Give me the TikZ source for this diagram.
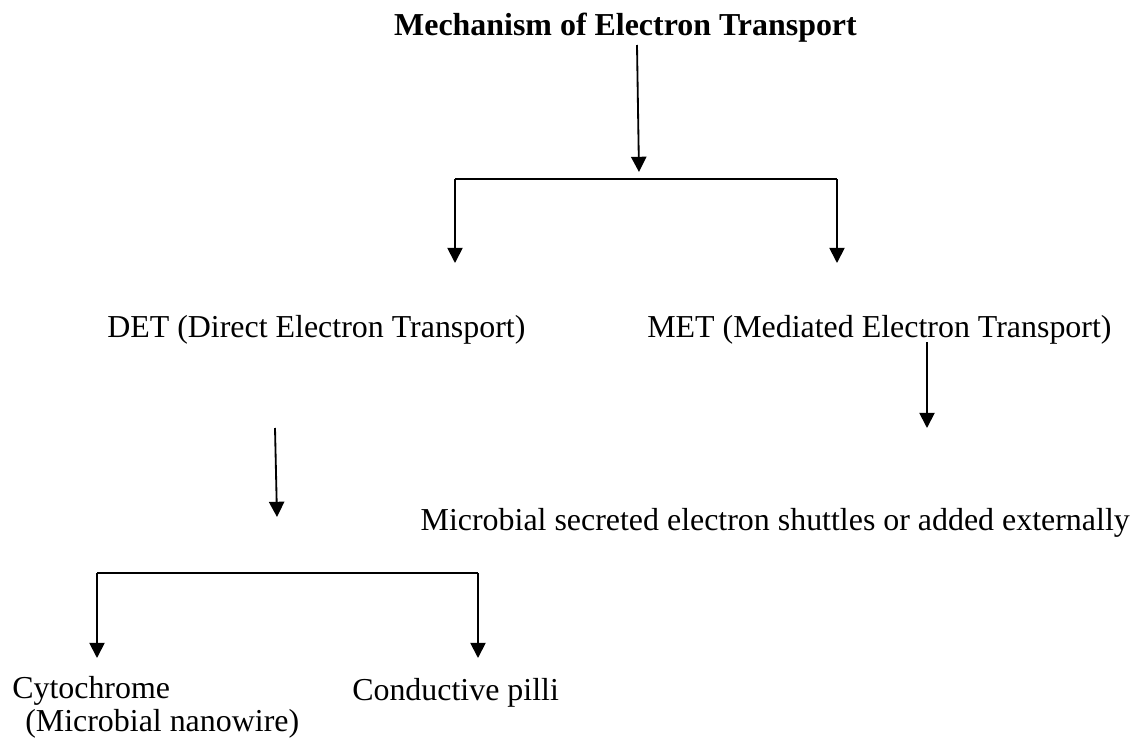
\documentclass[tikz,border=0pt]{standalone}
\usepackage{fontspec}
\setmainfont{Liberation Serif}
\usetikzlibrary{arrows.meta}
\def\drawline{\draw[line width=1.3pt]}
\def\drawarrow{\draw[line width=1.3pt,-{Triangle[length=3.8mm,width=3.8mm]}]}
\def\textnode{\node[inner sep=0pt,font=\fontsize{22.7}{27}\selectfont]}

\begin{document}
\begin{tikzpicture}[x=0.025cm,y=-0.025cm]
\useasboundingbox (0,0) rectangle (1140,743);
\textnode[anchor=base,font=\fontsize{22.7}{27}\selectfont\bfseries] (title) at (625.5,35) {Mechanism of Electron Transport};
\textnode[anchor=base west] (det) at (107,337) {DET (Direct Electron Transport)};
\textnode[anchor=base west] (met) at (647,337) {MET (Mediated Electron Transport)};
\textnode[anchor=base east] (shuttle) at (1130,530) {Microbial secreted electron shuttles or added externally};
\textnode[anchor=base west] (cyto) at (12,698) {Cytochrome};
\textnode[anchor=base west] (nanowire) at (25,731) {(Microbial nanowire)};
\textnode[anchor=base west] (pilli) at (352,700) {Conductive pilli};
% top split
\coordinate (titleout) at (637,45);
\coordinate (split) at (639,172);
\coordinate (splitl) at (455,179);
\coordinate (splitr) at (837,179);
\coordinate (detin) at (455,263);
\coordinate (metin) at (837,263);
\drawarrow (titleout) -- (split);
\drawline (splitl) -- (splitr);
\drawarrow (splitl) -- (detin);
\drawarrow (splitr) -- (metin);
% MET branch
\coordinate (metout) at (927,342);
\coordinate (shuttlein) at (927,428);
\drawarrow (metout) -- (shuttlein);
% DET branch
\coordinate (detout) at (275,428);
\coordinate (detsplit) at (277,517);
\coordinate (detl) at (97,573);
\coordinate (detr) at (478,573);
\coordinate (cytoin) at (97,658);
\coordinate (pilliin) at (478,658);
\drawarrow (detout) -- (detsplit);
\drawline (detl) -- (detr);
\drawarrow (detl) -- (cytoin);
\drawarrow (detr) -- (pilliin);
\end{tikzpicture}
\end{document}
